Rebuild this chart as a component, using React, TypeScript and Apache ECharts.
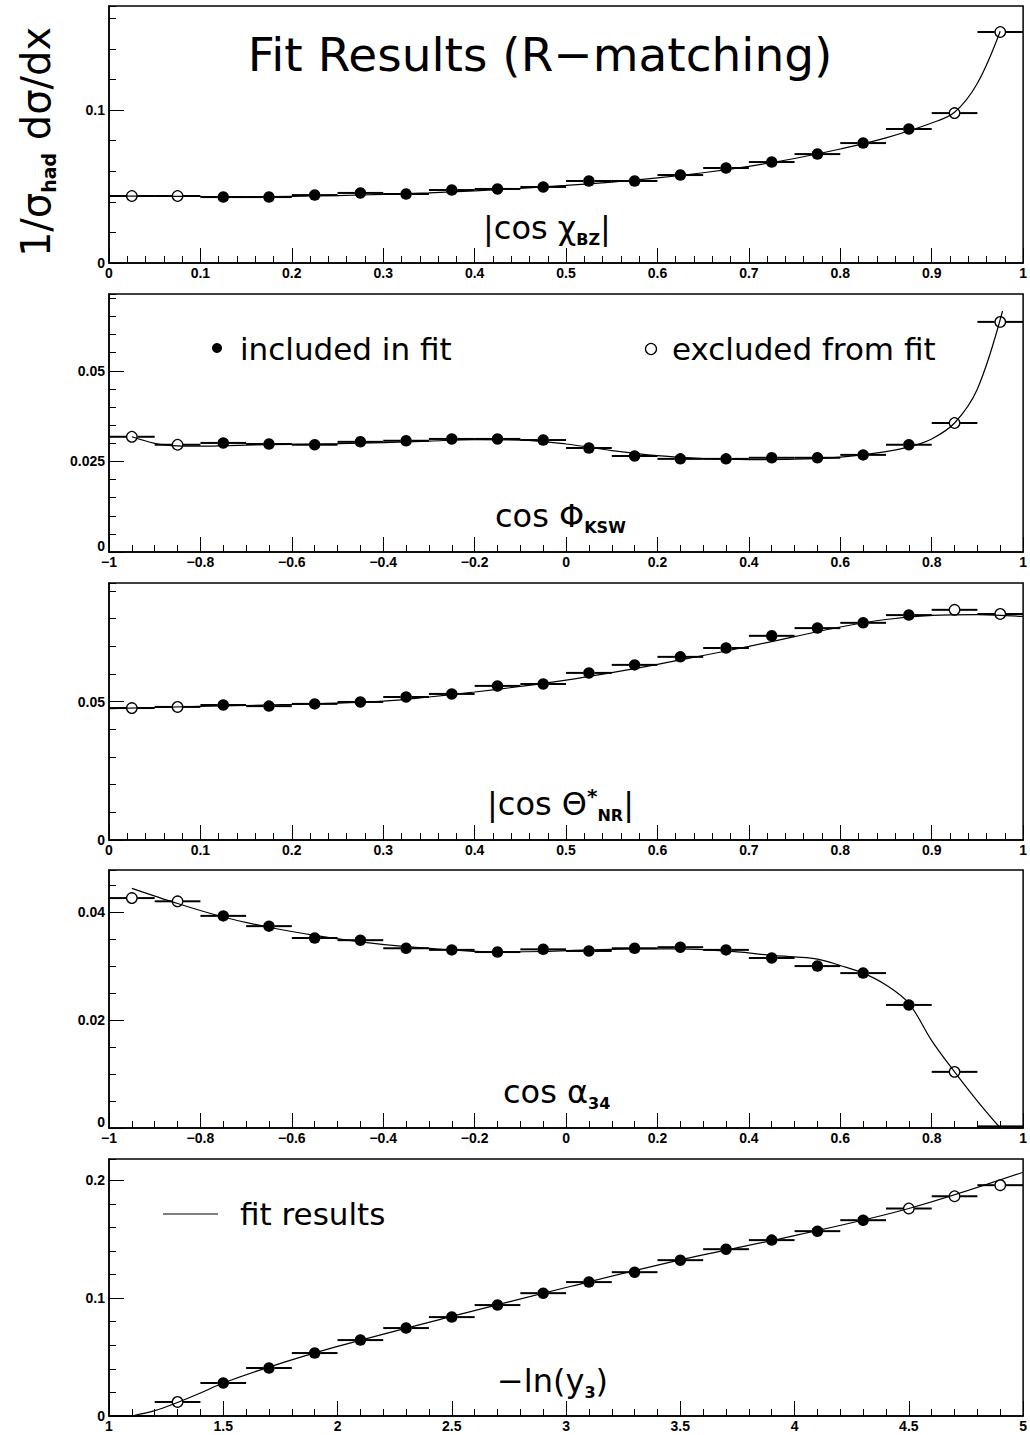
import React, { useEffect, useRef } from 'react';
import * as echarts from 'echarts';

// ---------- Panel 1: |cos chi_BZ| ----------
const bzX = [0.025, 0.075, 0.125, 0.175, 0.225, 0.275, 0.325, 0.375, 0.425, 0.475, 0.525, 0.575, 0.625, 0.675, 0.725, 0.775, 0.825, 0.875, 0.925, 0.975];
const bzY = [0.0438, 0.0438, 0.0431, 0.0431, 0.0444, 0.0458, 0.0451, 0.0477, 0.0484, 0.0497, 0.0536, 0.0536, 0.0575, 0.0621, 0.0660, 0.0712, 0.0784, 0.0876, 0.0980, 0.1510];
const bzStatus = ['o', 'o', 'f', 'f', 'f', 'f', 'f', 'f', 'f', 'f', 'f', 'f', 'f', 'f', 'f', 'f', 'f', 'f', 'o', 'o'];
const bzFitX = [0, 0.05, 0.1, 0.15, 0.2, 0.25, 0.3, 0.35, 0.4, 0.45, 0.5, 0.55, 0.6, 0.65, 0.7, 0.75, 0.8, 0.85, 0.9, 0.925, 0.95, 0.975];
const bzFitY = [0.0438, 0.0437, 0.0435, 0.0434, 0.0436, 0.0441, 0.0449, 0.0459, 0.0472, 0.0488, 0.0507, 0.0529, 0.0556, 0.0590, 0.0632, 0.0683, 0.0745, 0.0818, 0.0915, 0.0985, 0.1175, 0.1515];

// ---------- Panel 2: cos phi_KSW ----------
const kswX = [-0.95, -0.85, -0.75, -0.65, -0.55, -0.45, -0.35, -0.25, -0.15, -0.05, 0.05, 0.15, 0.25, 0.35, 0.45, 0.55, 0.65, 0.75, 0.85, 0.95];
const kswY = [0.0318, 0.0296, 0.0301, 0.0298, 0.0296, 0.0304, 0.0307, 0.0312, 0.0312, 0.0309, 0.0287, 0.0265, 0.0257, 0.0257, 0.0260, 0.0260, 0.0268, 0.0296, 0.0356, 0.0635];
const kswStatus = ['o', 'o', 'f', 'f', 'f', 'f', 'f', 'f', 'f', 'f', 'f', 'f', 'f', 'f', 'f', 'f', 'f', 'f', 'o', 'o'];
const kswFitX = [-0.95, -0.9, -0.85, -0.8, -0.7, -0.6, -0.5, -0.4, -0.3, -0.2, -0.1, 0, 0.1, 0.2, 0.3, 0.4, 0.5, 0.6, 0.7, 0.75, 0.8, 0.85, 0.9, 0.955];
const kswFitY = [0.0318, 0.0300, 0.0293, 0.0292, 0.0295, 0.0297, 0.0299, 0.0302, 0.0306, 0.0310, 0.0309, 0.0298, 0.0280, 0.0266, 0.0258, 0.0255, 0.0256, 0.0262, 0.0277, 0.0290, 0.0312, 0.0356, 0.0450, 0.0665];

// ---------- Panel 3: |cos Theta*_NR| ----------
const nrX = [0.025, 0.075, 0.125, 0.175, 0.225, 0.275, 0.325, 0.375, 0.425, 0.475, 0.525, 0.575, 0.625, 0.675, 0.725, 0.775, 0.825, 0.875, 0.925, 0.975];
const nrY = [0.0477, 0.0481, 0.0488, 0.0484, 0.0492, 0.0499, 0.0517, 0.0528, 0.0557, 0.0564, 0.0604, 0.0633, 0.0662, 0.0694, 0.0738, 0.0766, 0.0785, 0.0813, 0.0832, 0.0817];
const nrStatus = ['o', 'o', 'f', 'f', 'f', 'f', 'f', 'f', 'f', 'f', 'f', 'f', 'f', 'f', 'f', 'f', 'f', 'f', 'o', 'o'];
const nrFitX = [0, 0.1, 0.2, 0.3, 0.35, 0.4, 0.45, 0.5, 0.55, 0.6, 0.65, 0.7, 0.75, 0.8, 0.85, 0.9, 0.95, 1.0];
const nrFitY = [0.0475, 0.0483, 0.0490, 0.0502, 0.0517, 0.0535, 0.0555, 0.0578, 0.0605, 0.0635, 0.0667, 0.0700, 0.0735, 0.0770, 0.0797, 0.0812, 0.0815, 0.0808];

// ---------- Panel 4: cos alpha_34 ----------
const a34X = [-0.95, -0.85, -0.75, -0.65, -0.55, -0.45, -0.35, -0.25, -0.15, -0.05, 0.05, 0.15, 0.25, 0.35, 0.45, 0.55, 0.65, 0.75, 0.85, 0.95];
const a34Y = [0.0426, 0.0420, 0.0393, 0.0374, 0.0352, 0.0348, 0.0333, 0.0330, 0.0326, 0.0331, 0.0328, 0.0333, 0.0335, 0.0330, 0.0315, 0.0300, 0.0287, 0.0228, 0.0104, 0.0003];
const a34Status = ['o', 'o', 'f', 'f', 'f', 'f', 'f', 'f', 'f', 'f', 'f', 'f', 'f', 'f', 'f', 'f', 'f', 'f', 'o', '-'];
const a34FitX = [-0.95, -0.85, -0.75, -0.65, -0.55, -0.45, -0.35, -0.25, -0.15, -0.05, 0.05, 0.15, 0.25, 0.35, 0.45, 0.5, 0.55, 0.6, 0.65, 0.7, 0.75, 0.8, 0.85, 0.9, 0.95];
const a34FitY = [0.0444, 0.0416, 0.0391, 0.0372, 0.0357, 0.0345, 0.0336, 0.0330, 0.0326, 0.0327, 0.0330, 0.0332, 0.0332, 0.0328, 0.0320, 0.0317, 0.0313, 0.0301, 0.0287, 0.0265, 0.0231, 0.0162, 0.0104, 0.0050, 0.0000];

// ---------- Panel 5: -ln(y3) ----------
const y3X = [1.1, 1.3, 1.5, 1.7, 1.9, 2.1, 2.3, 2.5, 2.7, 2.9, 3.1, 3.3, 3.5, 3.7, 3.9, 4.1, 4.3, 4.5, 4.7, 4.9];
const y3Y = [0.0, 0.0119, 0.0280, 0.0407, 0.0534, 0.0644, 0.0746, 0.0839, 0.0941, 0.1042, 0.1136, 0.1220, 0.1322, 0.1415, 0.1492, 0.1568, 0.1661, 0.1760, 0.1864, 0.1958];
const y3Status = ['-', 'o', 'f', 'f', 'f', 'f', 'f', 'f', 'f', 'f', 'f', 'f', 'f', 'f', 'f', 'f', 'f', 'o', 'o', 'o'];
const y3FitX = [1.1, 1.2, 1.3, 1.4, 1.5, 1.7, 2.0, 2.5, 3.0, 3.5, 4.0, 4.5, 5.0];
const y3FitY = [0.0, 0.0045, 0.0115, 0.0195, 0.0280, 0.0415, 0.0590, 0.0845, 0.1090, 0.1325, 0.1530, 0.1760, 0.2068];

// ---------- Axis settings ----------
const xMins = [0, -1, 0, -1, 1];
const xMaxs = [1, 1, 1, 1, 5];
const xMajor = [0.1, 0.2, 0.1, 0.2, 0.5];
const xMinorSplit = [5, 4, 5, 4, 5];
const binHalfWidth = [0.025, 0.05, 0.025, 0.05, 0.1];
const yMaxs = [0.168, 0.0712, 0.0929, 0.0478, 0.218];
const yMajor = [0.1, 0.025, 0.05, 0.02, 0.1];
const yMinor = [0.02, 0.005, 0.01, 0.005, 0.02];

// layout
const frameTops = [6, 294, 583, 870, 1159];
const frameHeights = [257, 258, 257, 258, 257];

const series5 = [
  { xs: bzX, ys: bzY, st: bzStatus, fx: bzFitX, fy: bzFitY },
  { xs: kswX, ys: kswY, st: kswStatus, fx: kswFitX, fy: kswFitY },
  { xs: nrX, ys: nrY, st: nrStatus, fx: nrFitX, fy: nrFitY },
  { xs: a34X, ys: a34Y, st: a34Status, fx: a34FitX, fy: a34FitY },
  { xs: y3X, ys: y3Y, st: y3Status, fx: y3FitX, fy: y3FitY },
];

const fmt = (v: number) => {
  const s = String(parseFloat(v.toPrecision(10)));
  return s.replace('-', '\u2212');
};

const renderErrorBar = (_params: any, api: any) => {
  const x = api.value(0);
  const y = api.value(1);
  const hw = api.value(2);
  const hasMarker = api.value(3);
  const l = api.coord([x - hw, y]);
  const c = api.coord([x, y]);
  const r = api.coord([x + hw, y]);
  const gap = hasMarker ? 5.5 : 0;
  const style = { stroke: '#000', lineWidth: 2 };
  return {
    type: 'group',
    children: [
      { type: 'line', shape: { x1: l[0], y1: c[1], x2: c[0] - gap, y2: c[1] }, style },
      { type: 'line', shape: { x1: c[0] + gap, y1: c[1], x2: r[0], y2: c[1] }, style },
    ],
  };
};

const tickFont = { fontFamily: 'Liberation Sans', fontWeight: 'bold' as const, fontSize: 14, color: '#000' };
const BIG = 'DejaVu Sans';

function buildOption() {
  const grid = frameTops.map((t, i) => ({
    left: 109, right: 4, top: t, height: frameHeights[i],
    show: true, borderColor: '#000', borderWidth: 1.5, backgroundColor: 'transparent',
  }));
  const xAxis = frameTops.map((_t, i) => ({
    type: 'value', gridIndex: i, min: xMins[i], max: xMaxs[i], interval: xMajor[i],
    axisLine: { show: true, onZero: false, lineStyle: { color: '#000', width: 1.5 } },
    axisTick: { show: true, inside: true, length: 15, lineStyle: { color: '#000', width: 1 } },
    minorTick: { show: true, splitNumber: xMinorSplit[i], length: 7, lineStyle: { color: '#000', width: 1 } },
    splitLine: { show: false },
    axisLabel: { ...tickFont, margin: 3, formatter: (v: number) => fmt(v) },
  }));
  const yAxis: any[] = [];
  frameTops.forEach((_t, i) => {
    yAxis.push({
      type: 'value', gridIndex: i, position: 'left', min: 0, max: yMaxs[i], interval: yMinor[i],
      axisLine: { show: true, onZero: false, lineStyle: { color: '#000', width: 1.5 } },
      axisTick: { show: true, inside: true, length: 7, lineStyle: { color: '#000', width: 1 } },
      axisLabel: { show: false }, splitLine: { show: false },
    });
    const lift = xMins[i] < 0;
    yAxis.push({
      type: 'value', gridIndex: i, position: 'left', min: 0, max: yMaxs[i], interval: yMajor[i],
      axisLine: { show: false, onZero: false },
      axisTick: { show: true, inside: true, length: 15, lineStyle: { color: '#000', width: 1 } },
      axisLabel: {
        ...tickFont, margin: 4, showMaxLabel: false,
        formatter: (v: number) => (lift && v === 0 ? '{z|0}' : fmt(v)),
        rich: { z: { ...tickFont, padding: [0, 0, 12, 0] } },
      },
      splitLine: { show: false },
    });
  });

  const series: any[] = [];
  series5.forEach((p, i) => {
    const yi = 2 * i + 1;
    series.push({
      type: 'line', xAxisIndex: i, yAxisIndex: yi,
      data: p.fx.map((x, k) => [x, p.fy[k]]),
      smooth: 0.35, symbol: 'none', silent: true,
      lineStyle: { color: '#000', width: 1.2 }, z: 2,
    });
    series.push({
      type: 'custom', xAxisIndex: i, yAxisIndex: yi,
      data: p.xs.map((x, k) => [x, p.ys[k], binHalfWidth[i], p.st[k] === '-' ? 0 : 1]),
      renderItem: renderErrorBar, z: 3, silent: true,
    });
    series.push({
      type: 'scatter', xAxisIndex: i, yAxisIndex: yi,
      data: p.xs.map((x, k) => [x, p.ys[k]]).filter((_d, k) => p.st[k] === 'f'),
      symbol: 'circle', symbolSize: 11.5, itemStyle: { color: '#000', opacity: 1 }, z: 4, silent: true,
    });
    series.push({
      type: 'scatter', xAxisIndex: i, yAxisIndex: yi,
      data: p.xs.map((x, k) => [x, p.ys[k]]).filter((_d, k) => p.st[k] === 'o'),
      symbol: 'circle', symbolSize: 10.5,
      itemStyle: { color: 'rgba(0,0,0,0)', borderColor: '#000', borderWidth: 1.3, opacity: 1 }, z: 4, silent: true,
    });
  });

  const txt = (x: number, y: number, text: string, rich: any, fontSize = 32) => ({
    type: 'text', x, y, silent: true,
    style: {
      text, ...(rich ? { rich } : {}), fill: '#000', fontFamily: BIG, fontSize,
      align: 'left', textAlign: 'left', verticalAlign: 'middle', textVerticalAlign: 'middle',
    },
  });
  const m = { fontFamily: BIG, fontSize: 32, fill: '#000' };
  const sub = { fontFamily: BIG, fontSize: 16, fontWeight: 'bold', fill: '#000', padding: [22, 0, 0, 0] };
  const sup = { fontFamily: BIG, fontSize: 20, fontWeight: 'bold', fill: '#000', padding: [0, 0, 16, 0] };

  const graphic: any[] = [
    {
      type: 'text', x: 540, y: 54, silent: true,
      style: {
        text: 'Fit Results (R\u2212matching)', fontFamily: BIG, fontSize: 47, fill: '#000',
        align: 'center', textAlign: 'center', verticalAlign: 'middle', textVerticalAlign: 'middle',
      },
    },
    {
      type: 'text', x: 36, y: 142, rotation: Math.PI / 2, silent: true,
      style: {
        text: '{m|1/\u03c3}{s|had}{m| d\u03c3/dx}',
        rich: {
          m: { fontFamily: BIG, fontSize: 40, fill: '#000' },
          s: { fontFamily: BIG, fontSize: 19, fontWeight: 'bold', fill: '#000', padding: [26, 0, 0, 0] },
        },
        fill: '#000', align: 'center', textAlign: 'center', verticalAlign: 'middle', textVerticalAlign: 'middle',
      },
    },
    txt(483, 228, '{m|\u007ccos \u03c7}{s|BZ}{m|\u007c}', { m, s: sub }),
    txt(495, 516, '{m|cos \u03a6}{s|KSW}', { m, s: sub }),
    txt(487, 804, '{m|\u007ccos \u0398}{p|*}{s|NR}{m|\u007c}', { m, s: sub, p: sup }),
    txt(503, 1092, '{m|cos \u03b1}{s|34}', { m, s: sub }),
    txt(497, 1381, '{m|\u2212ln(y}{s|3}{m|)}', { m, s: sub }),
    // legend: included / excluded
    { type: 'circle', silent: true, shape: { cx: 217, cy: 348, r: 5 }, style: { fill: '#000' } },
    txt(240, 349, 'included in fit', null, 31),
    { type: 'circle', silent: true, shape: { cx: 651, cy: 349, r: 5.5 }, style: { fill: 'none', stroke: '#000', lineWidth: 1.3 } },
    txt(672, 349, 'excluded from fit', null, 31),
    // legend: fit results
    { type: 'line', silent: true, shape: { x1: 163, y1: 1214, x2: 218, y2: 1214 }, style: { stroke: '#000', lineWidth: 1.2 } },
    txt(240, 1214, 'fit results', null, 31),
  ];

  return {
    animation: false,
    backgroundColor: '#fff',
    grid, xAxis, yAxis, series, graphic,
  };
}

export default function App() {
  const ref = useRef<HTMLDivElement>(null);
  useEffect(() => {
    if (!ref.current) return;
    const chart = echarts.init(ref.current, null, { renderer: 'svg' });
    chart.setOption(buildOption() as any);
    return () => chart.dispose();
  }, []);
  return (
    <div
      ref={ref}
      style={{ position: 'absolute', left: 0, top: 0, width: 1030, height: 1435, background: '#fff' }}
    />
  );
}
